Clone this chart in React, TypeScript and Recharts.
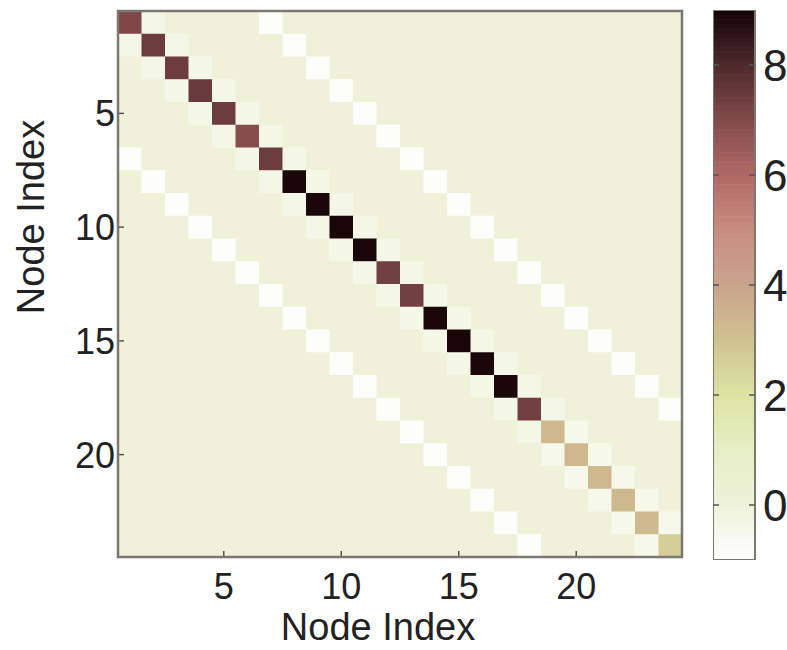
import React from 'react';
import { ScatterChart, Scatter, XAxis, YAxis, ReferenceArea, ComposedChart, Bar } from 'recharts';

// ---- data ----
const nodeIndex = [1, 2, 3, 4, 5, 6, 7, 8, 9, 10, 11, 12, 13, 14, 15, 16, 17, 18, 19, 20, 21, 22, 23, 24];
const diagonalValues = [7.1, 7.4, 7.4, 7.5, 7.4, 6.9, 7.4, 8.9, 8.9, 8.9, 8.9, 7.3, 7.3, 8.9, 8.9, 8.9, 8.9, 7.3, 3.3, 3.3, 3.3, 3.3, 3.3, 2.6];
// values on the band next to the diagonal (offset 1), both sides
const nearBandValues = [-0.35, -0.35, -0.35, -0.35, -0.35, -0.35, -0.35, -0.35, -0.35, -0.35, -0.35, -0.35, -0.35, -0.35, -0.35, -0.35, -0.35, -0.35, -0.45, -0.45, -0.45, -0.45, -0.45];
const nearBandOffset = 1;
// values on the band at offset 6, both sides
const farBandValues = [-0.9, -0.9, -0.9, -0.9, -0.9, -0.9, -0.9, -0.9, -0.9, -0.9, -0.9, -0.9, -0.9, -0.9, -0.9, -0.9, -0.9, -0.9];
const farBandOffset = 6;
const backgroundValue = 0;
const axisTicks = [5, 10, 15, 20];
const colorbarTicks = [0, 2, 4, 6, 8];
const colorRange = [-1, 9];
const colormapValues = [-1, 0, 1, 2, 3, 4, 5, 6, 7, 8, 9];
const colormapColors = ['#ffffff', '#eff2d9', '#e6eec4', '#dce4a3', '#cfc190', '#caa38a', '#c98c80', '#b06a66', '#824a4a', '#4d2a2b', '#140305'];

// ---- build matrix ----
type Cell = { row: number; col: number; value: number };
const cells: Cell[] = [];
nodeIndex.forEach((r) => {
  nodeIndex.forEach((c) => {
    let v = backgroundValue;
    if (r === c) v = diagonalValues[r - 1];
    else if (Math.abs(r - c) === nearBandOffset) v = nearBandValues[Math.min(r, c) - 1];
    else if (Math.abs(r - c) === farBandOffset) v = farBandValues[Math.min(r, c) - 1];
    cells.push({ row: r, col: c, value: v });
  });
});

const hexToRgb = (h: string) => [parseInt(h.slice(1, 3), 16), parseInt(h.slice(3, 5), 16), parseInt(h.slice(5, 7), 16)];
const colorFor = (v: number) => {
  const vs = colormapValues;
  if (v <= vs[0]) return colormapColors[0];
  if (v >= vs[vs.length - 1]) return colormapColors[vs.length - 1];
  for (let i = 0; i < vs.length - 1; i++) {
    if (v >= vs[i] && v <= vs[i + 1]) {
      const t = (v - vs[i]) / (vs[i + 1] - vs[i]);
      const a = hexToRgb(colormapColors[i]);
      const b = hexToRgb(colormapColors[i + 1]);
      const m = a.map((x, k) => Math.round(x + (b[k] - x) * t));
      return `rgb(${m[0]},${m[1]},${m[2]})`;
    }
  }
  return colormapColors[0];
};

// ---- layout ----
const FONT = '"Liberation Sans", Arial, Helvetica, sans-serif';
const TEXT = '#222222';
const TICKC = '#555555';
const CHART_W = 695;
const CHART_H = 650;
const MARGIN = { top: 11, right: 13, bottom: 0, left: 0 };
const YAXIS_W = 118;
const XAXIS_H = 93;
const PLOT_W = CHART_W - MARGIN.left - MARGIN.right - YAXIS_W;
const PLOT_H = CHART_H - MARGIN.top - MARGIN.bottom - XAXIS_H;
const CELL_W = PLOT_W / nodeIndex.length;
const CELL_H = PLOT_H / nodeIndex.length;
const TICK_LEN = 6;
const FS = 36;

const CellShape = (p: any) => {
  const { cx, cy, payload } = p;
  return (
    <rect
      x={cx - CELL_W / 2}
      y={cy - CELL_H / 2}
      width={CELL_W + 0.6}
      height={CELL_H + 0.6}
      fill={colorFor(payload.value)}
    />
  );
};

const BottomTick = (p: any) => {
  const { x, y, payload } = p;
  return (
    <g>
      <line x1={x} x2={x} y1={y} y2={y - TICK_LEN} stroke={TICKC} strokeWidth={1.5} />
      <text x={x} y={y + 42} textAnchor="middle" fontSize={FS} fill={TEXT} fontFamily={FONT}>
        {payload.value}
      </text>
    </g>
  );
};
const TopTick = (p: any) => {
  const { x, y } = p;
  return <line x1={x} x2={x} y1={y} y2={y + TICK_LEN} stroke={TICKC} strokeWidth={1.5} />;
};
const LeftTick = (p: any) => {
  const { x, y, payload } = p;
  return (
    <g>
      <line x1={x} x2={x + TICK_LEN} y1={y} y2={y} stroke={TICKC} strokeWidth={1.5} />
      <text x={x - 3} y={y + 13} textAnchor="end" fontSize={FS} fill={TEXT} fontFamily={FONT}>
        {payload.value}
      </text>
    </g>
  );
};
const RightTick = (p: any) => {
  const { x, y } = p;
  return <line x1={x} x2={x - TICK_LEN} y1={y} y2={y} stroke={TICKC} strokeWidth={1.5} />;
};

const XLabel = (p: any) => {
  const vb = p.viewBox || {};
  return (
    <text x={vb.x + vb.width / 2 - 22} y={vb.y + 83} textAnchor="middle" fontSize={38} fill={TEXT} fontFamily={FONT}>
      Node Index
    </text>
  );
};
const YLabel = (p: any) => {
  const vb = p.viewBox || {};
  const cx = vb.x + 31;
  const cy = vb.y + 206;
  return (
    <text
      x={cx}
      y={cy}
      transform={`rotate(-90, ${cx}, ${cy})`}
      textAnchor="middle"
      dominantBaseline="central"
      fontSize={38}
      fill={TEXT}
      fontFamily={FONT}
    >
      Node Index
    </text>
  );
};

// ---- colorbar ----
const CB_LEFT = 713;
const CB_W = 787 - CB_LEFT;
const CB_AXIS_W = 32;
const CB_BAR_W = CB_W - CB_AXIS_W;
const CB_SLICES = 120;
const colorbarData = [{ name: 'cb', range: colorRange }];

const CbTick = (p: any) => {
  const { x, y, payload } = p;
  return (
    <g>
      <line x1={x} x2={x - TICK_LEN} y1={y} y2={y} stroke={TICKC} strokeWidth={1.5} />
      <line x1={x - CB_BAR_W} x2={x - CB_BAR_W + TICK_LEN} y1={y} y2={y} stroke={TICKC} strokeWidth={1.5} />
      <text x={x + 8} y={y + 16} textAnchor="start" fontSize={44} fill={TEXT} fontFamily={FONT}>
        {payload.value}
      </text>
    </g>
  );
};

const ColorbarShape = (p: any) => {
  const x = Number(p.x);
  const width = Number(p.width);
  const y0 = Math.min(Number(p.y), Number(p.y) + Number(p.height));
  const h = Math.abs(Number(p.height));
  const span = colorRange[1] - colorRange[0];
  const sliceH = h / CB_SLICES;
  const slices = [];
  for (let i = 0; i < CB_SLICES; i++) {
    const v = colorRange[1] - ((i + 0.5) / CB_SLICES) * span;
    slices.push(<rect key={i} x={x} y={y0 + i * sliceH} width={width} height={sliceH + 0.6} fill={colorFor(v)} />);
  }
  return (
    <g>
      {slices}
      <rect x={x} y={y0} width={width} height={h} fill="none" stroke="#7b7872" strokeWidth={2} />
    </g>
  );
};

function XLabelWrap(p: any) {
  return <XLabel {...p} />;
}
function YLabelWrap(p: any) {
  return <YLabel {...p} />;
}

export default function App() {
  return (
    <div style={{ position: 'absolute', left: 0, top: 0, width: 787, height: 650, background: '#ffffff', overflow: 'hidden' }}>
      <div style={{ position: 'absolute', left: 0, top: 0 }}>
        <ScatterChart width={CHART_W} height={CHART_H} margin={MARGIN}>
          <XAxis
            type="number"
            dataKey="col"
            domain={[0.5, 24.5]}
            ticks={axisTicks}
            allowDataOverflow
            height={XAXIS_H}
            tickSize={0}
            tickMargin={0}
            axisLine={false}
            tickLine={false}
            tick={<BottomTick />}
            interval={0}
            label={<XLabelWrap />}
          />
          <XAxis
            xAxisId="top"
            orientation="top"
            type="number"
            domain={[0.5, 24.5]}
            ticks={axisTicks}
            allowDataOverflow
            height={0}
            tickSize={0}
            tickMargin={0}
            axisLine={false}
            tickLine={false}
            tick={<TopTick />}
            interval={0}
          />
          <YAxis
            type="number"
            dataKey="row"
            domain={[0.5, 24.5]}
            reversed
            ticks={axisTicks}
            allowDataOverflow
            width={YAXIS_W}
            tickSize={0}
            tickMargin={0}
            axisLine={false}
            tickLine={false}
            tick={<LeftTick />}
            interval={0}
            label={<YLabelWrap />}
          />
          <YAxis
            yAxisId="right"
            orientation="right"
            type="number"
            domain={[0.5, 24.5]}
            reversed
            ticks={axisTicks}
            allowDataOverflow
            width={0}
            tickSize={0}
            tickMargin={0}
            axisLine={false}
            tickLine={false}
            tick={<RightTick />}
            interval={0}
          />
          <Scatter data={cells} shape={<CellShape />} isAnimationActive={false} />
          <ReferenceArea
            x1={0.5}
            x2={24.5}
            y1={0.5}
            y2={24.5}
            fill="none"
            fillOpacity={0}
            stroke="#7b7872"
            strokeWidth={2.5}
            ifOverflow="visible"
            zIndex={2000}
          />
        </ScatterChart>
      </div>
      <div style={{ position: 'absolute', left: CB_LEFT, top: 0 }}>
        <ComposedChart
          width={CB_W}
          height={650}
          data={colorbarData}
          margin={{ top: 10, right: 0, bottom: 90, left: 0 }}
          barCategoryGap={0}
          barGap={0}
        >
          <XAxis dataKey="name" hide />
          <YAxis
            orientation="right"
            type="number"
            domain={colorRange}
            ticks={colorbarTicks}
            allowDataOverflow
            width={CB_AXIS_W}
            tickSize={0}
            tickMargin={0}
            axisLine={false}
            tickLine={false}
            tick={<CbTick />}
            interval={0}
          />
          <Bar dataKey="range" shape={<ColorbarShape />} isAnimationActive={false} />
        </ComposedChart>
      </div>
    </div>
  );
}
